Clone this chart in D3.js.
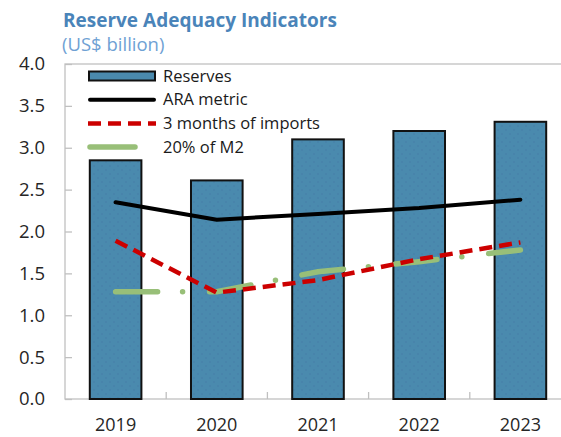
<!DOCTYPE html>
<html>
<head>
<meta charset="utf-8">
<script src="https://cdn.jsdelivr.net/npm/d3@7"></script>
<style>
  body { margin: 0; background: #fff; }
  text { font-family: "Open Sans", Lato, sans-serif; }
</style>
</head>
<body>
<div id="container"></div>
<script>
/* chart data */
var years = ["2019", "2020", "2021", "2022", "2023"]
var reserves = [2.85, 2.61, 3.10, 3.20, 3.31]
var araMetric = [2.35, 2.14, 2.21, 2.28, 2.38]
var imports3m = [1.89, 1.27, 1.42, 1.67, 1.87]
var m2share = [1.28, 1.28, 1.52, 1.64, 1.78]
var yTicks = [0, 0.5, 1, 1.5, 2, 2.5, 3, 3.5, 4]

/* setup the dimensions */
var width = 561, height = 437
var plot = { left: 65, right: 571, top: 64, bottom: 399 }

var svg = d3.select("#container")
            .append("svg")
            .attr("width", width)
            .attr("height", height)

var x = d3.scaleBand()
          .domain(years)
          .range([plot.left, plot.right])
          .paddingInner(0.49)
          .paddingOuter(0.245)

var y = d3.scaleLinear()
          .domain([0, 4])
          .range([plot.bottom, plot.top])

var cx = function(d, i) { return x(years[i]) + x.bandwidth() / 2 }

/* dotted texture on bars */
var defs = svg.append("defs")
var pat = defs.append("pattern")
    .attr("id", "dots")
    .attr("patternUnits", "userSpaceOnUse")
    .attr("width", 8).attr("height", 8)
pat.append("rect").attr("width", 8).attr("height", 8).attr("fill", "#4a8aae")
pat.append("circle").attr("cx", 2).attr("cy", 2).attr("r", 0.7).attr("fill", "#4479a6")
pat.append("circle").attr("cx", 6).attr("cy", 6).attr("r", 0.7).attr("fill", "#4479a6")

/* title */
svg.append("text")
   .attr("x", 63).attr("y", 27)
   .attr("font-size", 19).attr("font-weight", "bold")
   .attr("fill", "#4a84b9")
   .text("Reserve Adequacy Indicators")
svg.append("text")
   .attr("x", 62).attr("y", 51)
   .attr("font-size", 18.5)
   .attr("fill", "#6fa1d4")
   .text("(US$ billion)")

/* plot frame */
svg.append("rect")
   .attr("x", plot.left).attr("y", plot.top)
   .attr("width", plot.right - plot.left)
   .attr("height", plot.bottom - plot.top)
   .attr("fill", "none")
   .attr("stroke", "#c0c0c0")
   .attr("stroke-width", 1.3)

/* y axis (ticks point inward) */
var yAxis = d3.axisRight(y)
              .tickValues(yTicks)
              .tickSize(7)
              .tickFormat(d3.format(".1f"))
var gy = svg.append("g")
   .attr("transform", "translate(" + plot.left + ",0)")
   .call(yAxis)
gy.select(".domain").remove()
gy.selectAll(".tick line").attr("stroke", "#c0c0c0").attr("stroke-width", 1.3)
gy.selectAll(".tick text")
  .attr("x", -20)
  .attr("text-anchor", "end")
  .attr("font-size", 18.5)
  .attr("fill", "#262626")
  .attr("font-family", "'Open Sans', sans-serif")

/* x axis: category labels + separator ticks */
var gx = svg.append("g")
   .attr("transform", "translate(0," + plot.bottom + ")")
gx.selectAll(".sep")
  .data(years.slice(1))
  .enter().append("line")
    .attr("x1", function(d) { return x(d) - x.step() * x.paddingInner() / 2 })
    .attr("x2", function(d) { return x(d) - x.step() * x.paddingInner() / 2 })
    .attr("y1", 0).attr("y2", -7)
    .attr("stroke", "#c0c0c0").attr("stroke-width", 1.3)
gx.selectAll(".lab")
  .data(years)
  .enter().append("text")
    .attr("x", function(d) { return x(d) + x.bandwidth() / 2 })
    .attr("y", 32)
    .attr("text-anchor", "middle")
    .attr("font-size", 18)
    .attr("fill", "#262626")
    .text(function(d) { return d })

/* bars */
svg.selectAll(".bar")
   .data(reserves)
   .enter().append("rect")
     .attr("class", "bar")
     .attr("x", function(d, i) { return x(years[i]) })
     .attr("y", function(d) { return y(d) })
     .attr("width", x.bandwidth())
     .attr("height", function(d) { return y(0) - y(d) })
     .attr("fill", "url(#dots)")
     .attr("stroke", "#111")
     .attr("stroke-width", 2)

/* lines */
var line = d3.line()
             .x(cx)
             .y(function(d) { return y(d) })

svg.append("path")
   .datum(m2share)
   .attr("d", line)
   .attr("fill", "none")
   .attr("stroke", "#98bf78")
   .attr("stroke-width", 5.5)
   .attr("stroke-linecap", "round")
   .attr("stroke-dasharray", "42,25,0,27")

svg.append("path")
   .datum(imports3m)
   .attr("d", line)
   .attr("fill", "none")
   .attr("stroke", "#cc0000")
   .attr("stroke-width", 4.5)
   .attr("stroke-dasharray", "13,7")

svg.append("path")
   .datum(araMetric)
   .attr("d", line)
   .attr("fill", "none")
   .attr("stroke", "#000")
   .attr("stroke-width", 4)
   .attr("stroke-linecap", "round")
   .attr("stroke-linejoin", "round")

/* legend */
var legend = svg.append("g")
var rows = [
  { name: "Reserves", kind: "bar" },
  { name: "ARA metric", kind: "ara" },
  { name: "3 months of imports", kind: "imp" },
  { name: "20% of M2", kind: "m2" }
]
var ly = function(i) { return 76 + i * 23.7 }

rows.forEach(function(r, i) {
  var yy = ly(i)
  if (r.kind === "bar") {
    legend.append("rect")
      .attr("x", 89).attr("y", yy - 4.5)
      .attr("width", 66).attr("height", 9)
      .attr("fill", "#4a8aae").attr("stroke", "#111").attr("stroke-width", 2)
  } else if (r.kind === "ara") {
    legend.append("line")
      .attr("x1", 90).attr("x2", 154).attr("y1", yy).attr("y2", yy)
      .attr("stroke", "#000").attr("stroke-width", 4).attr("stroke-linecap", "round")
  } else if (r.kind === "imp") {
    legend.append("line")
      .attr("x1", 88).attr("x2", 156).attr("y1", yy).attr("y2", yy)
      .attr("stroke", "#cc0000").attr("stroke-width", 4.5).attr("stroke-dasharray", "13,7")
  } else {
    legend.append("line")
      .attr("x1", 90).attr("x2", 135).attr("y1", yy).attr("y2", yy)
      .attr("stroke", "#98bf78").attr("stroke-width", 5.5).attr("stroke-linecap", "round")
  }
  legend.append("text")
    .attr("x", 163).attr("y", yy + 5.5)
    .attr("font-size", 16.5)
    .attr("fill", "#1a1a1a")
    .text(r.name)
})
</script>
</body>
</html>
